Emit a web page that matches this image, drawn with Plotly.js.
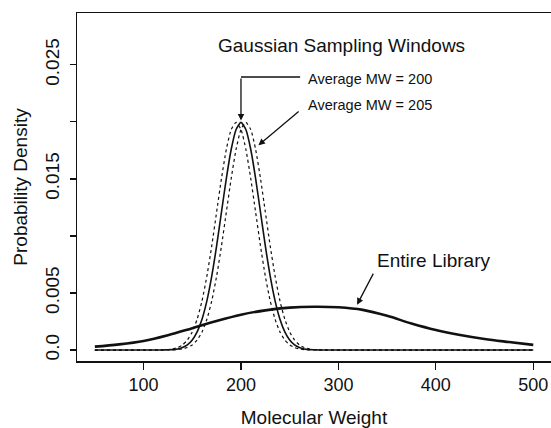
<!DOCTYPE html>
<html>
<head>
<meta charset="utf-8">
<script src="https://cdn.plot.ly/plotly-3.0.1.min.js"></script>
<style>html,body{margin:0;padding:0;background:#fff;}#chart{width:551px;height:428px;}</style>
</head>
<body>
<div id="chart"></div>
<script>
// Entire library density
const libraryMW = [50, 75, 100, 125, 150, 175, 200, 225, 250, 275, 300, 325, 350, 375, 400, 425, 450, 475, 500];
const libraryDensity = [0.00030, 0.00050, 0.00080, 0.00130, 0.00192, 0.00255, 0.00310, 0.00348, 0.00372, 0.00380, 0.00375, 0.00352, 0.00300, 0.00233, 0.00176, 0.00132, 0.00097, 0.00070, 0.00045];

// Sampling window shape (offset from the window's average MW)
const windowOffset = [-90, -80, -75, -70, -65, -60, -55, -50, -45, -40, -35, -30, -25, -20, -15, -10, -5, 0, 5, 10, 15, 20, 25, 30, 35, 40, 45, 50, 55, 60, 65, 70, 75, 80, 90];
const windowDensity = [0, 0.00001, 0.00002, 0.00004, 0.00010, 0.00022, 0.00045, 0.00088, 0.00159, 0.00270, 0.00431, 0.00648, 0.00913, 0.01210, 0.01505, 0.01760, 0.01933, 0.01995, 0.01933, 0.01760, 0.01505, 0.01210, 0.00913, 0.00648, 0.00431, 0.00270, 0.00159, 0.00088, 0.00045, 0.00022, 0.00010, 0.00004, 0.00002, 0.00001, 0];
const windowMeans = [195, 200, 205];
const windowDash = ['dot', 'solid', 'dot'];
const windowWidth = [1.2, 1.6, 1.2];
const mwRange = [50, 500];

const xTicks = [100, 200, 300, 400, 500];
const yTickVals = [0, 0.005, 0.010, 0.015, 0.020, 0.025];
const yTickText = ['0.0', '0.005', '', '0.015', '', '0.025'];

const FONT = 'Liberation Sans, Arial, Helvetica, sans-serif';
const INK = '#111111';

const traces = [];
windowMeans.forEach((m, i) => {
  const xs = [mwRange[0]].concat(windowOffset.map(o => m + o)).concat([mwRange[1]]);
  const ys = [0].concat(windowDensity).concat([0]);
  traces.push({
    x: xs, y: ys, type: 'scatter', mode: 'lines',
    line: {color: INK, width: windowWidth[i], dash: windowDash[i], shape: 'spline', smoothing: 0.6},
    hoverinfo: 'skip', showlegend: false
  });
});
traces.push({
  x: libraryMW, y: libraryDensity, type: 'scatter', mode: 'lines',
  line: {color: INK, width: 2.6, shape: 'spline', smoothing: 1},
  hoverinfo: 'skip', showlegend: false
});

const layout = {
  width: 551, height: 428,
  margin: {l: 77, r: 0, t: 13, b: 67},
  paper_bgcolor: '#fff', plot_bgcolor: '#fff',
  font: {family: FONT, color: INK, size: 18},
  showlegend: false,
  xaxis: {
    range: [31.7, 518.2], tickvals: xTicks, ticktext: xTicks.map(String),
    ticks: 'outside', ticklen: 7, tickwidth: 1.2, tickcolor: INK,
    showline: true, linecolor: INK, linewidth: 1.5, mirror: true,
    showgrid: false, zeroline: false,
    tickfont: {size: 18, family: FONT, color: INK},
    title: {text: 'Molecular Weight', font: {size: 19, family: FONT, color: INK}, standoff: 21}
  },
  yaxis: {
    range: [-0.00096, 0.02954], tickvals: yTickVals, ticktext: yTickText,
    ticks: 'outside', ticklen: 6, tickwidth: 1.2, tickcolor: INK, tickangle: -90,
    ticklabelstandoff: 3,
    showline: true, linecolor: INK, linewidth: 1.5, mirror: false,
    showgrid: false, zeroline: false,
    tickfont: {size: 19, family: FONT, color: INK},
    title: {text: 'Probability Density', font: {size: 19, family: FONT, color: INK}, standoff: 9}
  },
  shapes: [
    {type: 'line', xref: 'x', yref: 'y', x0: 260.7, y0: 0.02393, x1: 200, y1: 0.02393, line: {color: INK, width: 1.3}}
  ],
  annotations: [
    {x: 303.5, y: 0.02671, xref: 'x', yref: 'y', text: 'Gaussian Sampling Windows', showarrow: false,
     font: {size: 19, family: FONT, color: INK}, xanchor: 'center', yanchor: 'middle'},
    {x: 266.9, y: 0.02379, xref: 'x', yref: 'y', text: 'Average MW = 200', showarrow: false,
     font: {size: 14.5, family: FONT, color: INK}, xanchor: 'left', yanchor: 'middle'},
    {x: 266.9, y: 0.02145, xref: 'x', yref: 'y', text: 'Average MW = 205', showarrow: false,
     font: {size: 14.5, family: FONT, color: INK}, xanchor: 'left', yanchor: 'middle'},
    {x: 337.2, y: 0.00788, xref: 'x', yref: 'y', text: 'Entire Library', showarrow: false,
     font: {size: 19, family: FONT, color: INK}, xanchor: 'left', yanchor: 'middle'},
    {x: 200, y: 0.02012, xref: 'x', yref: 'y', ax: 200, ay: 0.02393, axref: 'x', ayref: 'y',
     text: '', showarrow: true, arrowhead: 2, arrowsize: 1, arrowwidth: 1.3, arrowcolor: INK},
    {x: 217.9, y: 0.01795, xref: 'x', yref: 'y', ax: 260.7, ay: 0.02102, axref: 'x', ayref: 'y',
     text: '', showarrow: true, arrowhead: 2, arrowsize: 1, arrowwidth: 1.3, arrowcolor: INK},
    {x: 319.2, y: 0.00398, xref: 'x', yref: 'y', ax: 336.6, ay: 0.00683, axref: 'x', ayref: 'y',
     text: '', showarrow: true, arrowhead: 2, arrowsize: 1, arrowwidth: 1.3, arrowcolor: INK}
  ]
};

Plotly.newPlot('chart', traces, layout, {staticPlot: true, displayModeBar: false});
</script>
</body>
</html>
